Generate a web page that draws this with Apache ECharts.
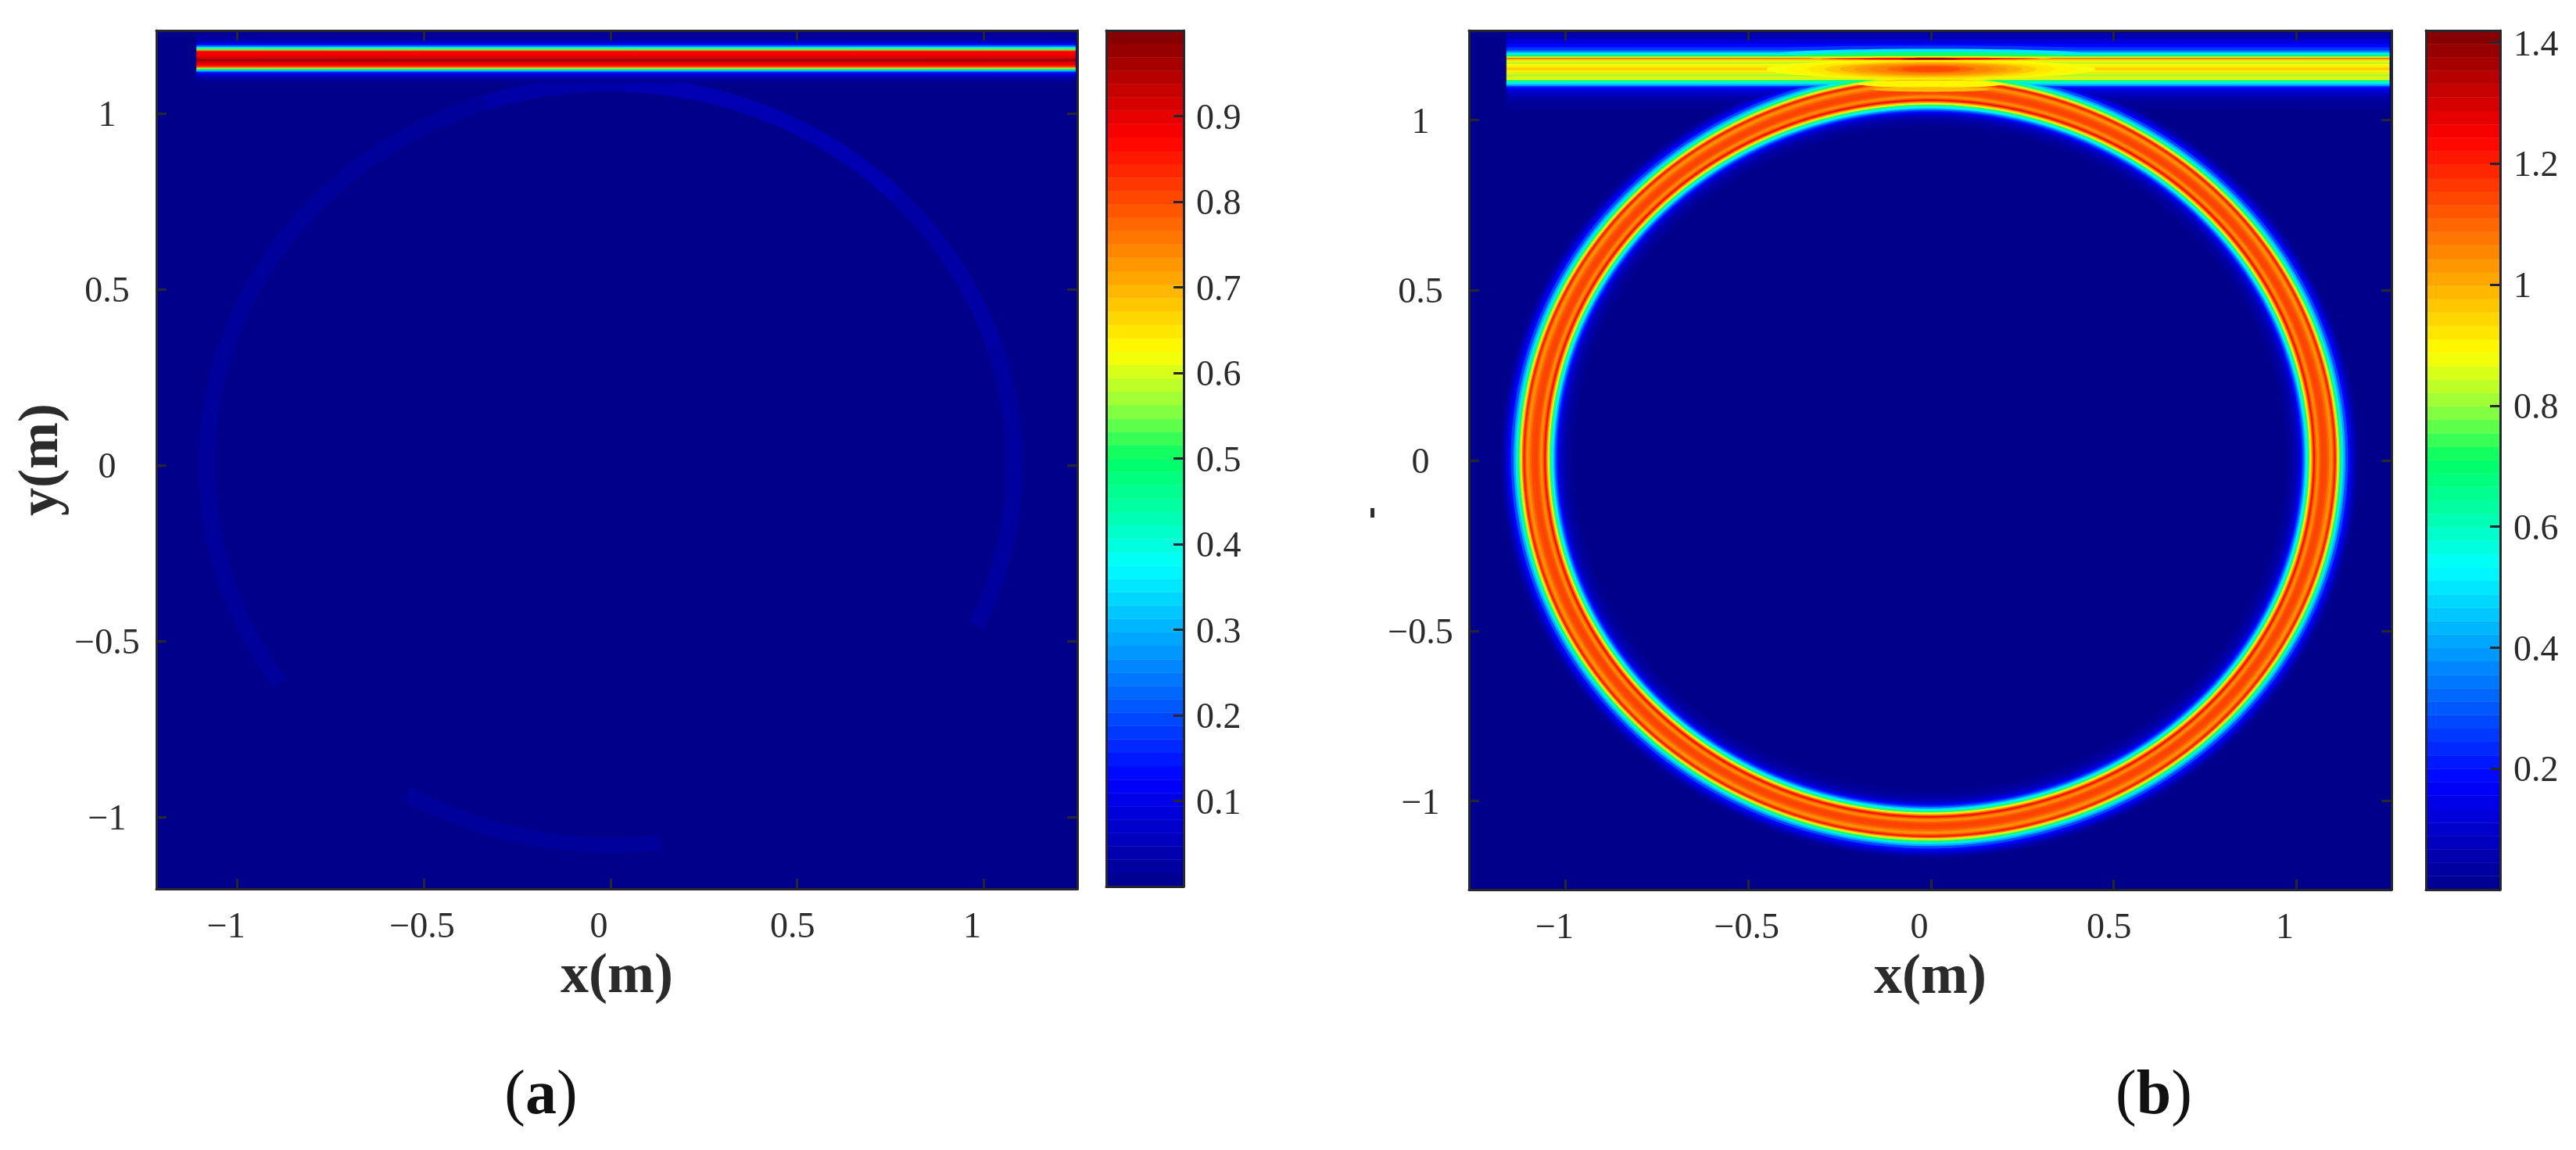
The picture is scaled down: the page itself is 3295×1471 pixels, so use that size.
<!DOCTYPE html>
<html>
<head>
<meta charset="utf-8">
<style>html,body{margin:0;padding:0;background:#fff}#c{width:3295px;height:1471px}</style>
<script src="https://cdn.jsdelivr.net/npm/echarts@6/dist/echarts.min.js"></script>
</head>
<body>
<div id="c"></div>
<script>
// ---- values ----
const tickValues = [-1, -0.5, 0, 0.5, 1];
const cbarTicksA = [0.1, 0.2, 0.3, 0.4, 0.5, 0.6, 0.7, 0.8, 0.9];
const cbarTicksB = [0.2, 0.4, 0.6, 0.8, 1, 1.2, 1.4];

// panel (a): waveguide cross-section, y (m) and field value
const guideAY = [1.233,1.215,1.204,1.196,1.190,1.186,1.181,1.178,1.175,1.173,1.167,1.159,1.156,1.150,1.146,1.141,1.136,1.133,1.130,1.127,1.125,1.122,1.119,1.115,1.109,1.100,1.089];
const guideAV = [0.01,0.02,0.05,0.12,0.25,0.40,0.54,0.75,0.85,0.88,0.88,0.90,0.92,0.97,0.92,0.89,0.87,0.83,0.75,0.62,0.50,0.38,0.25,0.14,0.08,0.03,0.01];
const guideAXStart = -1.108, guideAXEnd = 1.245;

// panel (a): faint ring arcs, by polar angle in degrees
const arcAStart = [-25, 18, 45, 88, 108, 175, 240];
const arcAEnd   = [ 18, 45, 88, 108, 175, 215, 277];
const arcAValue = [0.022, 0.028, 0.042, 0.030, 0.016, 0.016, 0.016];
const arcAOuter = [1.103, 1.103, 1.103, 1.103, 1.103, 1.103, 1.103];
const arcAInner = [1.060, 1.060, 1.060, 1.060, 1.060, 1.060, 1.060];

// panel (b): ring radial profile, radius (m) and field value, outermost first
const ringR = [1.169,1.162,1.155,1.148,1.141,1.133,1.130,1.126,1.123,1.119,1.116,1.112,1.109,1.105,1.101,1.098,1.094,1.091,1.084,1.076,1.069,1.066,1.062,1.059,1.055,1.051,1.048,1.044,1.041,1.037,1.034,1.030,1.026,1.023,1.019,1.016,1.009,1.002,0.991,0.977];
const ringV = [0.02,0.06,0.11,0.18,0.28,0.42,0.50,0.60,0.72,0.82,0.92,1.08,1.22,1.14,1.06,1.03,1.06,1.10,1.14,1.15,1.13,1.08,1.04,1.06,1.14,1.24,1.12,0.98,0.88,0.74,0.60,0.52,0.42,0.32,0.24,0.18,0.10,0.06,0.03,0.01];
const ringCenterX = -0.004, ringCenterY = 0.006;

// panel (b): waveguide cross-section away from the coupling zone
const guideBY = [1.261,1.245,1.230,1.219,1.207,1.201,1.196,1.192,1.188,1.184,1.180,1.176,1.172,1.169,1.161,1.156,1.150,1.144,1.138,1.134,1.129,1.124,1.120,1.117,1.111,1.106,1.101,1.096,1.091,1.085,1.073,1.062,1.046,1.031];
const guideBV = [0.02,0.06,0.12,0.18,0.25,0.35,0.48,0.58,0.68,0.85,1.08,0.94,0.88,0.84,0.88,0.91,0.96,0.91,0.88,0.84,0.83,0.86,0.90,0.72,0.60,0.50,0.38,0.22,0.16,0.12,0.07,0.04,0.02,0.01];
const guideBXStart = -1.161, guideBXEnd = 1.254;

// panel (b): contours of the coupling zone around x = 0
const lensV  = [0.25, 0.50, 0.72, 0.90, 0.90, 0.98, 0.88, 0.90, 0.92, 0.96, 1.00, 1.03, 1.06, 1.10, 1.14, 1.18, 1.24, 1.42];
const lensY  = [1.207,1.195,1.187,1.181,1.106,1.090,1.150,1.150,1.150,1.150,1.150,1.150,1.150,1.150,1.150,1.180,1.180,1.180];
const lensXR = [0.45, 0.42, 0.38, 0.33, 0.20, 0.16, 0.45, 0.40, 0.34, 0.29, 0.25, 0.21, 0.17, 0.12, 0.08, 0.30, 0.20, 0.08];
const lensUp = [0.012,0.014,0.012,0.006,0.011,0.007,0.027,0.025,0.024,0.021,0.019,0.016,0.014,0.011,0.008,0.0035,0.003,0.002];
const lensDn = [0.000,0.000,0.000,0.000,0.011,0.007,0.030,0.030,0.030,0.026,0.022,0.019,0.016,0.012,0.009,0.0035,0.003,0.002];

// ---- styles ----
const jetStops = ['#00008b','#0000c5','#0000ff','#0040ff','#007fff','#00bfff','#00ffff','#00ffaa','#00ff64','#96ff3c','#ffff00','#ffbf00','#ff7f00','#ff3f00','#ff0000','#bf0000','#7f0000'];
const FONT = '"Liberation Serif", serif';
const INK = '#2b2b2b', LINE = '#26262e';
const LEVELS = 64;

const edgesOf = ys => ys.map((y, i) => [
  i === 0 ? y + 0.08 : (y + ys[i - 1]) / 2,
  i === ys.length - 1 ? y - 0.002 : (y + ys[i + 1]) / 2
]);

const guideRows = (ys, vs, x0, x1, keep) => edgesOf(ys)
  .map((e, i) => [vs[i], x0, x1, e[0], e[1], ys[i]]).filter(keep);

// limit above which the waveguide's lower skirt is stronger than v
const SPLIT = 1.1185;
function skirtLimit(v) {
  for (let i = 0; i < guideBY.length; i++) {
    if (guideBY[i] < SPLIT && guideBV[i] <= v) return guideBY[i];
  }
  return SPLIT + 0.01;
}

const renderRect = (params, api) => {
  const a = api.coord([api.value(1), api.value(3)]);
  const b = api.coord([api.value(2), api.value(4)]);
  const c = api.visual('color');
  return { type: 'rect', shape: { x: a[0], y: a[1], width: b[0] - a[0], height: b[1] - a[1] },
           style: { fill: c, stroke: c, lineWidth: 0.6 } };
};

const arcPolygon = (api, cx, cy, r0, r1, d0, d1, limit) => {
  const pts = [];
  const at = (r, d) => {
    const t = d * Math.PI / 180;
    return api.coord([cx + r * Math.cos(t), Math.min(cy + r * Math.sin(t), limit)]);
  };
  for (let d = d0; d <= d1; d += 1.5) pts.push(at(r0, d));
  pts.push(at(r0, d1));
  for (let d = d1; d >= d0; d -= 1.5) pts.push(at(r1, d));
  pts.push(at(r1, d0));
  return pts;
};

const renderRingB = (params, api) => {
  const v = api.value(0), c = api.visual('color');
  return { type: 'polygon',
    shape: { points: arcPolygon(api, ringCenterX, ringCenterY, api.value(1), api.value(2), -90, 270, skirtLimit(v)) },
    style: { fill: c, stroke: c, lineWidth: 0.8 } };
};

const renderArcA = (params, api) => {
  const c = api.visual('color');
  return { type: 'polygon',
    shape: { points: arcPolygon(api, 0, 0.002, api.value(1), api.value(2), api.value(3), api.value(4), 99) },
    style: { fill: c } };
};

const renderLens = (params, api) => {
  const c = api.visual('color');
  const y = api.value(1), xr = api.value(2), up = api.value(3), dn = api.value(4);
  const pts = [];
  for (let d = 0; d < 360; d += 4) {
    const t = d * Math.PI / 180, s = Math.sin(t);
    pts.push(api.coord([xr * Math.cos(t), y + (s > 0 ? up : dn) * s]));
  }
  return { type: 'polygon', shape: { points: pts }, style: { fill: c } };
};

const renderBand = (params, api) => {
  const a = api.coord([0, api.value(2)]);
  const b = api.coord([1, api.value(1)]);
  const c = api.visual('color');
  return { type: 'rect', shape: { x: a[0], y: a[1], width: b[0] - a[0], height: b[1] - a[1] },
           style: { fill: c, stroke: c, lineWidth: 0.5 } };
};

// one band per colour level of the scale
const colorBands = max => {
  const out = [];
  for (let i = 0; i < LEVELS; i++) out.push([(i + 0.5) * max / LEVELS, i * max / LEVELS, (i + 1) * max / LEVELS]);
  return out;
};

// ---- axes helpers ----
const axisLine = { show: true, onZero: false, lineStyle: { color: LINE, width: 3 } };
const tick = vals => ({ show: true, inside: true, length: 13, customValues: vals, lineStyle: { color: LINE, width: 3 } });
const fmtNum = v => (v < 0 ? '\u2212' : '') + Math.abs(v);
const xShift = { '-1': 14, '-0.5': 2, '0': 15, '0.5': 6, '1': 15 };
const labelStyle = { fontFamily: FONT, fontSize: 46, color: INK };
const xRich = {};
Object.keys(xShift).forEach(k => {
  xRich['s' + xShift[k]] = { fontFamily: FONT, fontSize: 46, color: INK, padding: [0, 2 * xShift[k], 0, 0] };
});
// the reference's numerals sit a few pixels under their ticks
const sideRich = { t: { fontFamily: FONT, fontSize: 46, color: INK, padding: [8, 0, 0, 0] } };

const xMain = (grid, range, name) => [{
  type: 'value', gridIndex: grid, min: range[0], max: range[1], position: 'bottom', z: 10,
  axisLine, axisTick: tick(tickValues), splitLine: { show: false },
  axisLabel: { ...labelStyle, margin: 27, customValues: tickValues, rich: xRich,
    formatter: v => `{s${xShift[String(v)]}|${fmtNum(v)}}` },
  name, nameLocation: 'middle', nameGap: 74,
  nameTextStyle: { fontFamily: FONT, fontWeight: 'bold', fontSize: 72, color: INK }
}, {
  type: 'value', gridIndex: grid, min: range[0], max: range[1], position: 'top', z: 10,
  axisLine, axisTick: tick(tickValues), splitLine: { show: false }, axisLabel: { show: false }
}];

const yMain = (grid, range, margin, name) => [{
  type: 'value', gridIndex: grid, min: range[0], max: range[1], position: 'left', z: 10,
  axisLine, axisTick: tick(tickValues), splitLine: { show: false },
  axisLabel: { ...labelStyle, align: 'center', margin, customValues: tickValues, rich: sideRich,
    formatter: v => `{t|${fmtNum(v)}}` },
  name, nameLocation: 'middle', nameGap: 110, nameRotate: 90,
  nameTextStyle: { fontFamily: FONT, fontWeight: 'bold', fontSize: 72, color: INK }
}, {
  type: 'value', gridIndex: grid, min: range[0], max: range[1], position: 'right', z: 10,
  axisLine, axisTick: tick(tickValues), splitLine: { show: false }, axisLabel: { show: false }
}];

const xBar = grid => ['bottom', 'top'].map(position => ({
  type: 'value', gridIndex: grid, min: 0, max: 1, position, z: 10,
  axisLine, axisTick: { show: false }, splitLine: { show: false }, axisLabel: { show: false }
}));

const yBar = (grid, max, ticks, margin) => [{
  type: 'value', gridIndex: grid, min: 0, max, position: 'left', z: 10,
  axisLine, axisTick: { show: false }, splitLine: { show: false }, axisLabel: { show: false }
}, {
  type: 'value', gridIndex: grid, min: 0, max, position: 'right', z: 10,
  axisLine, axisTick: tick(ticks), splitLine: { show: false },
  axisLabel: { ...labelStyle, margin, customValues: ticks, rich: sideRich, formatter: v => `{t|${v}}` }
}];

// ---- series ----
const customSeries = (xi, yi, z, renderItem, data) => ({
  type: 'custom', coordinateSystem: 'cartesian2d', xAxisIndex: xi, yAxisIndex: yi,
  z, clip: true, silent: true, animation: false, renderItem, data
});

const arcRows = arcAValue.map((v, i) => [v, arcAOuter[i], arcAInner[i], arcAStart[i], arcAEnd[i]]);
const ringEdges = edgesOf(ringR);
const ringRows = ringV.map((v, i) => [v, ringEdges[i][0] - (i === 0 ? 0.076 : 0), ringEdges[i][1]]);
const lensRows = lensV.map((v, i) => [v, lensY[i], lensXR[i], lensUp[i], lensDn[i]]);

const rowsA = guideRows(guideAY, guideAV, guideAXStart, guideAXEnd, () => true);
const skirtB = guideRows(guideBY, guideBV, guideBXStart, guideBXEnd, r => r[5] < SPLIT);
const coreB  = guideRows(guideBY, guideBV, guideBXStart, guideBXEnd, r => r[5] >= SPLIT);

const MAX_A = 1, MAX_B = 1.42;

const series = [
  customSeries(0, 0, 2, renderArcA, arcRows),
  customSeries(0, 0, 3, renderRect, rowsA),
  customSeries(2, 2, 2, renderBand, colorBands(MAX_A)),
  customSeries(4, 4, 2, renderRect, skirtB),
  customSeries(4, 4, 3, renderRingB, ringRows),
  customSeries(4, 4, 4, renderRect, coreB),
  customSeries(4, 4, 5, renderLens, lensRows),
  customSeries(6, 6, 2, renderBand, colorBands(MAX_B))
];

const caption = (letter, left) => ({
  text: `{p|(}{b|${letter}}{p|)}`, left, top: 1358, textAlign: 'center',
  textStyle: { rich: {
    p: { fontFamily: FONT, fontSize: 80, fontWeight: 'normal', color: '#111' },
    b: { fontFamily: FONT, fontSize: 80, fontWeight: 'bold', color: '#111' }
  } }
});

const option = {
  backgroundColor: '#ffffff',
  animation: false,
  title: [caption('a', 687), caption('b', 2750)],
  grid: [
    { left: 200, top: 39, width: 1178, height: 1098, show: true, backgroundColor: jetStops[0], borderWidth: 0, outerBoundsMode: 'none' },
    { left: 1415, top: 39, width: 99, height: 1095, outerBoundsMode: 'none' },
    { left: 1879, top: 39, width: 1180, height: 1099, show: true, backgroundColor: jetStops[0], borderWidth: 0, outerBoundsMode: 'none' },
    { left: 3103, top: 39, width: 95, height: 1099, outerBoundsMode: 'none' }
  ],
  xAxis: [
    ...xMain(0, [-1.216, 1.25], 'x(m)'),
    ...xBar(1),
    ...xMain(2, [-1.264, 1.26], 'x(m)'),
    ...xBar(3)
  ],
  yAxis: [
    ...yMain(0, [-1.204, 1.2356], 63, 'y(m)'),
    ...yBar(1, MAX_A, cbarTicksA, 16),
    ...yMain(2, [-1.26, 1.263], 62, ''),
    ...yBar(3, MAX_B, cbarTicksB, 17)
  ],
  visualMap: [
    { type: 'continuous', show: false, min: 0, max: MAX_A, dimension: 0, seriesIndex: [0, 1, 2], inRange: { color: jetStops } },
    { type: 'continuous', show: false, min: 0, max: MAX_B, dimension: 0, seriesIndex: [3, 4, 5, 6, 7], inRange: { color: jetStops } }
  ],
  graphic: [{ type: 'rect', left: 1753, top: 650, shape: { width: 5, height: 12 }, style: { fill: '#2b2b3a' } }],
  series
};

echarts.init(document.getElementById('c'), null, { renderer: 'canvas' }).setOption(option);
</script>
</body>
</html>
